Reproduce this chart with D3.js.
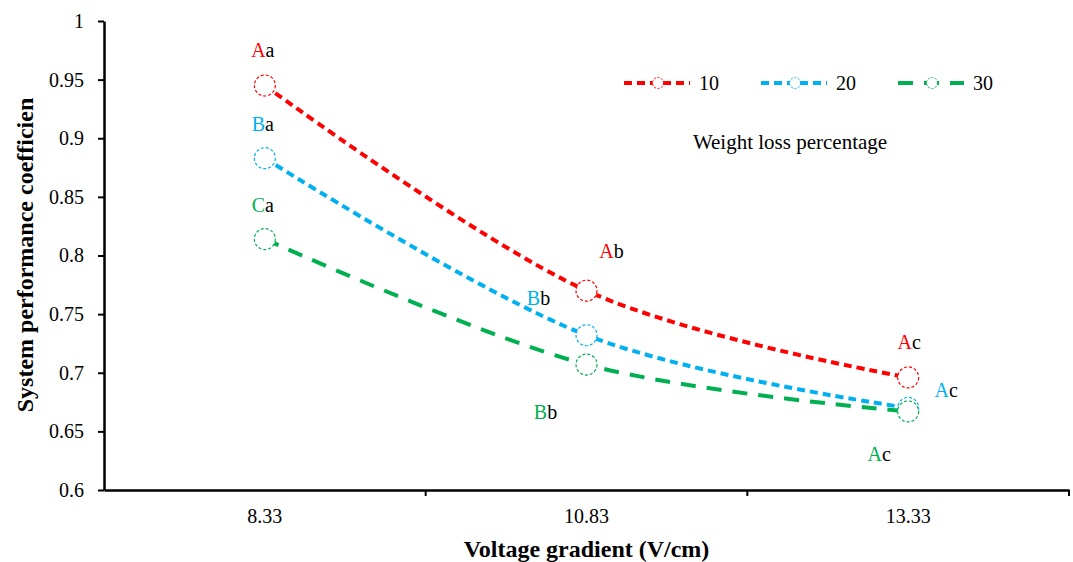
<!DOCTYPE html>
<html>
<head>
<meta charset="utf-8">
<script src="https://cdn.jsdelivr.net/npm/d3@7"></script>
<style>
  body { margin: 0; background: #fff; }
</style>
</head>
<body>
<div id="chart"></div>
<script>
// data
var gradients = ["8.33", "10.83", "13.33"];
var weightLoss = ["10", "20", "30"];
var values10 = [0.945, 0.770, 0.696];
var values20 = [0.883, 0.732, 0.670];
var values30 = [0.814, 0.707, 0.667];
var yTicks = [0.6, 0.65, 0.7, 0.75, 0.8, 0.85, 0.9, 0.95, 1];
var labels10 = [["A", "a"], ["A", "b"], ["A", "c"]];
var labels20 = [["B", "a"], ["B", "b"], ["A", "c"]];
var labels30 = [["C", "a"], ["B", "b"], ["A", "c"]];

var colors = ["#ff0000", "#00b0f0", "#00b050"];
var dashes = ["8,5", "8,5", "15,11"];
var serif = "'Liberation Serif', 'Times New Roman', Times, serif";
// label offsets from each point (pixels)
var offsets = [
  [[-2, -28], [25, -33], [1, -28]],
  [[-2, -27], [-48, -30], [38, -11]],
  [[-2, -27], [-41, 54], [-29, 50]]
];

var series = [values10, values20, values30].map(function(v, i) {
  return { name: weightLoss[i], values: v, labels: [labels10, labels20, labels30][i] };
});

var W = 1073, H = 562;
var margin = {top: 21, right: 4, bottom: 72, left: 104},
    width = W - margin.left - margin.right,
    height = H - margin.top - margin.bottom;

var svg = d3.select("#chart")
  .append("svg")
    .attr("width", W)
    .attr("height", H)
    .style("font-family", serif)
  .append("g")
    .attr("transform", "translate(" + margin.left + "," + margin.top + ")");

var x = d3.scaleBand()
  .domain(gradients)
  .range([0, width])
  .padding(0);

var y = d3.scaleLinear()
  .domain([0.6, 1])
  .range([height, 0]);

// X axis: labels centred, ticks at band edges
var xAxis = svg.append("g")
  .attr("transform", "translate(0," + height + ")")
  .call(d3.axisBottom(x).tickSize(0).tickPadding(19));
xAxis.attr("font-family", null);
xAxis.select(".domain").attr("stroke", "#000").attr("stroke-width", 2.5);
xAxis.selectAll("text").attr("font-size", "20px").attr("fill", "#000");

var edges = gradients.map(function(d) { return x(d) + x.bandwidth(); });
svg.append("g")
  .selectAll("line")
  .data(edges)
  .enter()
  .append("line")
    .attr("x1", function(d) { return d; })
    .attr("x2", function(d) { return d; })
    .attr("y1", height)
    .attr("y2", height + 6)
    .attr("stroke", "#000")
    .attr("stroke-width", 2);

// Y axis
var yAxis = svg.append("g")
  .call(d3.axisLeft(y)
    .tickValues(yTicks)
    .tickSize(6)
    .tickSizeOuter(0)
    .tickPadding(14)
    .tickFormat(function(d) { return String(+d.toFixed(2)); }));
yAxis.attr("font-family", null);
yAxis.select(".domain").attr("stroke", "#000").attr("stroke-width", 2.5);
yAxis.selectAll(".tick line").attr("stroke", "#000").attr("stroke-width", 2);
yAxis.selectAll("text").attr("font-size", "20px").attr("fill", "#000");

// axis titles
svg.append("text")
  .attr("x", width / 2)
  .attr("y", height + 67)
  .attr("text-anchor", "middle")
  .attr("font-size", "24px")
  .attr("font-weight", "bold")
  .text("Voltage gradient (V/cm)");

svg.append("text")
  .attr("transform", "translate(" + (-71) + "," + (255 - margin.top) + ")rotate(-90)")
  .attr("text-anchor", "middle")
  .attr("font-size", "24px")
  .attr("font-weight", "bold")
  .text("System performance coefficien");

// lines
var cx = function(d, i) { return x(gradients[i]) + x.bandwidth() / 2; };
var line = d3.line()
  .x(cx)
  .y(function(d) { return y(d); })
  .curve(d3.curveCardinal.tension(0));

series.forEach(function(s, k) {
  svg.append("path")
    .datum(s.values)
    .attr("d", line)
    .attr("fill", "none")
    .attr("stroke", colors[k])
    .attr("stroke-width", 4)
    .attr("stroke-dasharray", dashes[k]);
});

series.forEach(function(s, k) {
  svg.append("g")
    .selectAll("circle")
    .data(s.values)
    .enter()
    .append("circle")
      .attr("cx", cx)
      .attr("cy", function(d) { return y(d); })
      .attr("r", 10.5)
      .attr("fill", "#fff")
      .attr("stroke", colors[k])
      .attr("stroke-width", 1.2)
      .attr("stroke-dasharray", "3,2");
});

// data labels
series.forEach(function(s, k) {
  var t = svg.append("g")
    .selectAll("text")
    .data(s.values)
    .enter()
    .append("text")
      .attr("x", function(d, i) { return cx(d, i) + offsets[k][i][0]; })
      .attr("y", function(d, i) { return y(d) + offsets[k][i][1]; })
      .attr("text-anchor", "middle")
      .attr("font-size", "20px");
  t.append("tspan").attr("fill", colors[k]).text(function(d, i) { return s.labels[i][0]; });
  t.append("tspan").attr("fill", "#000").text(function(d, i) { return s.labels[i][1]; });
});

// legend
var legend = svg.append("g").attr("transform", "translate(" + (624 - margin.left) + "," + (83 - margin.top) + ")");
series.forEach(function(s, k) {
  var g = legend.append("g").attr("transform", "translate(" + (k * 137) + ",0)");
  g.append("line")
    .attr("x1", 0).attr("x2", 66)
    .attr("stroke", colors[k])
    .attr("stroke-width", 4)
    .attr("stroke-dasharray", dashes[k]);
  g.append("circle")
    .attr("cx", 34).attr("r", 5.5)
    .attr("fill", "#fff")
    .attr("stroke", colors[k])
    .attr("stroke-width", 1)
    .attr("stroke-dasharray", "2,1.5");
  g.append("text")
    .attr("x", 75).attr("y", 7)
    .attr("font-size", "20px")
    .text(s.name);
});

svg.append("text")
  .attr("x", 790 - margin.left)
  .attr("y", 149 - margin.top)
  .attr("text-anchor", "middle")
  .attr("font-size", "21px")
  .text("Weight loss percentage");
</script>
</body>
</html>
